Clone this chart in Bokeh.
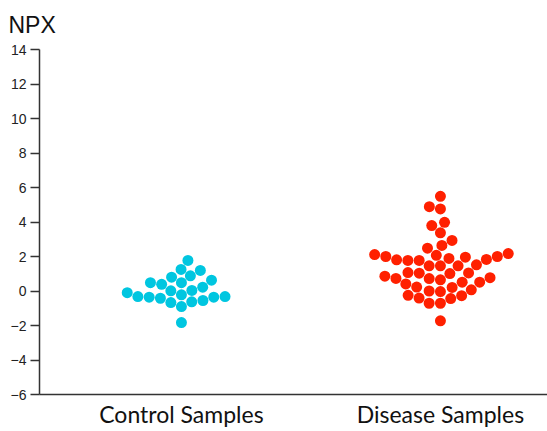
import numpy as np
from bokeh.plotting import figure
from bokeh.models import FixedTicker, ColumnDataSource
from bokeh.embed import file_html
from bokeh.resources import INLINE

# ---- data ----
title_text = "NPX"
categories = ["Control Samples", "Disease Samples"]
control_values = [1.77, 1.25, 1.19, 0.80, 0.88, 0.48, 0.39, 0.48, 0.63, 0.22,
                  0.01, 0.03, -0.10, -0.32, -0.36, -0.42, -0.22, -0.36, -0.32,
                  -0.67, -0.63, -0.55, -0.90, -1.83]
disease_values = [5.49, 4.89, 4.76, 3.98, 3.79, 3.37, 2.93, 2.64, 2.48, 2.17,
                  2.11, 2.07, 2.00, 2.00, 1.96, 1.89, 1.83, 1.81, 1.77, 1.77,
                  1.52, 1.46, 1.46, 1.46, 1.07, 1.05, 1.03, 1.01, 0.86, 0.77,
                  0.73, 0.72, 0.65, 0.51, 0.51, 0.41, 0.23, 0.21, 0.07, 0.00,
                  -0.03, -0.25, -0.27, -0.41, -0.44, -0.71, -0.71, -1.73]
series = [control_values, disease_values]
colors = ["#00c6e0", "#ff2000"]
y_ticks = list(range(-6, 15, 2))
axis_bounds = (-6, 14)

# ---- layout ----
FRAME_W, FRAME_H = 508, 345
PX_X, PX_Y = 259.0, 17.25          # pixels per data unit
X_START = -0.548
X_END = X_START + FRAME_W / PX_X
Y_START = -6
Y_END = Y_START + FRAME_H / PX_Y
MARKER = 11
SPACING = 11.3


def swarm(values, d):
    ys = np.asarray(values, dtype=float) * PX_Y
    order = np.argsort(ys, kind="stable")
    placed = []
    offsets = np.zeros(len(ys))
    for i in order:
        y = ys[i]
        nb = [(px, py) for px, py in placed if abs(py - y) < d]
        cands = [0.0]
        left_first = True
        for px, py in nb:
            dx = np.sqrt(max(d * d - (py - y) ** 2, 0.0))
            pair = [px - dx, px + dx] if left_first else [px + dx, px - dx]
            cands += pair
            left_first = not left_first
        cands.sort(key=abs)
        chosen = cands[-1]
        for c in cands:
            if all((c - px) ** 2 + (y - py) ** 2 >= d * d - 1e-6 for px, py in nb):
                chosen = c
                break
        offsets[i] = chosen
        placed.append((chosen, y))
    return offsets / PX_X


p = figure(frame_width=FRAME_W, frame_height=FRAME_H,
           x_range=(X_START, X_END), y_range=(Y_START, Y_END),
           output_backend="svg", toolbar_location=None,
           min_border_left=39, min_border_right=0,
           min_border_top=49, min_border_bottom=37)

for k, vals in enumerate(series):
    xs = k + swarm(vals, SPACING)
    src = ColumnDataSource(dict(x=xs, y=vals))
    p.scatter("x", "y", source=src, size=MARKER, fill_color=colors[k],
              line_color=None)

p.title.text = title_text
p.title.text_font = "Liberation Sans"
p.title.text_font_size = "23px"
p.title.text_font_style = "normal"
p.title.text_color = "#111111"
p.title.align = "left"
p.title.vertical_align = "top"
p.title.offset = -31
p.title.standoff = 20

p.grid.visible = False
p.outline_line_color = None
p.background_fill_color = "white"
p.border_fill_color = "white"

ax = p.xaxis[0]
ax.ticker = FixedTicker(ticks=list(range(len(categories))))
ax.major_label_overrides = {i: c for i, c in enumerate(categories)}
ax.major_tick_out = 0
ax.major_tick_in = 0
ax.minor_tick_out = 0
ax.minor_tick_in = 0
ax.axis_line_color = "#333333"
ax.axis_line_width = 1.5
ax.major_label_text_font = "Lato"
ax.major_label_text_font_size = "23px"
ax.major_label_text_color = "#111111"
ax.major_label_standoff = 5

ay = p.yaxis[0]
ay.ticker = FixedTicker(ticks=y_ticks)
ay.bounds = axis_bounds
ay.major_tick_out = 9
ay.major_tick_in = 0
ay.minor_tick_out = 0
ay.minor_tick_in = 0
ay.axis_line_color = "#333333"
ay.axis_line_width = 1.5
ay.major_tick_line_color = "#333333"
ay.major_tick_line_width = 1.5
ay.major_label_text_font = "Liberation Sans"
ay.major_label_text_font_size = "14px"
ay.major_label_text_color = "#222222"
ay.major_label_standoff = 4

open("out.html", "w").write(file_html(p, INLINE))
